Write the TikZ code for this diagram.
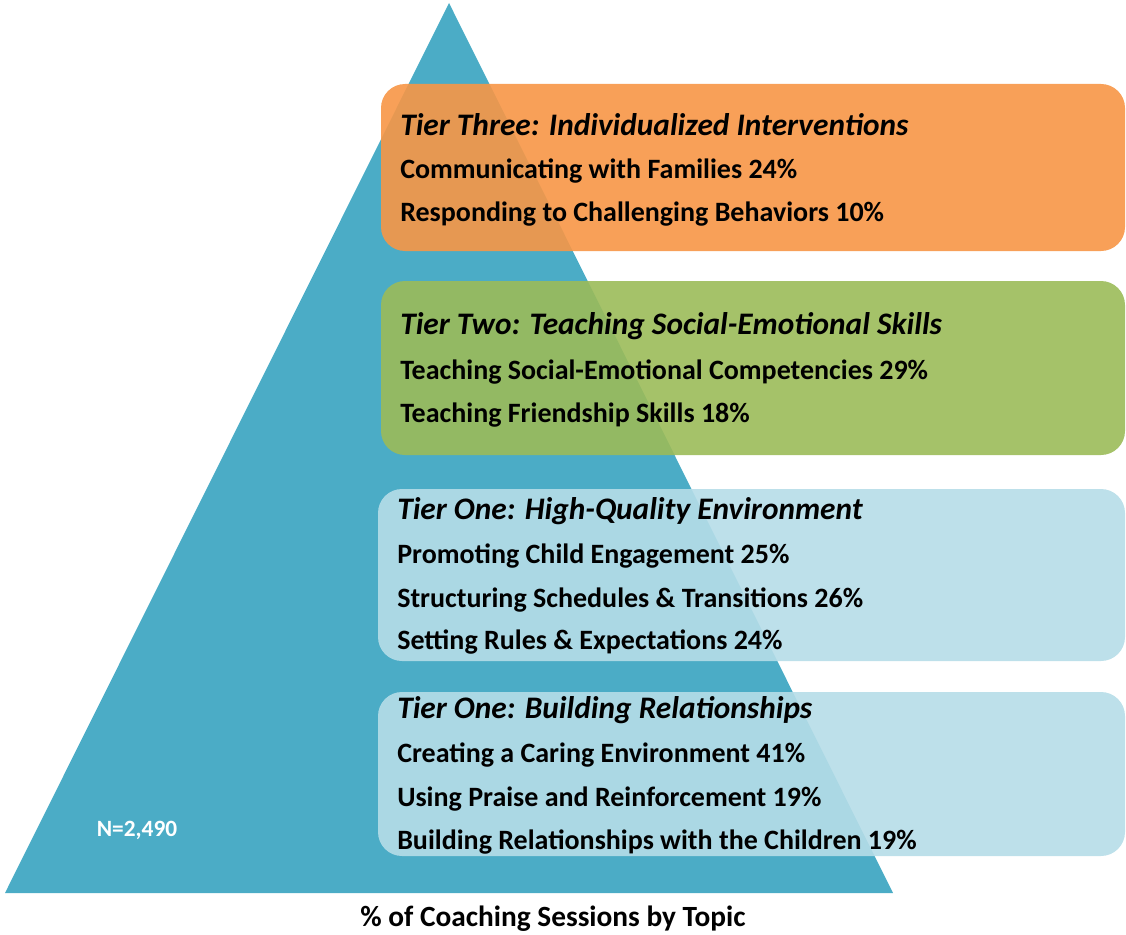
\documentclass[tikz,border=0pt]{standalone}
\usepackage{fontspec}
\setmainfont{Carlito}
\definecolor{tealtri}{HTML}{4BACC6}
\definecolor{tierorange}{HTML}{F79646}
\definecolor{tiergreen}{HTML}{9BBB59}
\definecolor{tierblue}{HTML}{B6DDE8}
\tikzset{
  tierbox/.style={rounded corners=18pt, fill opacity=0.9},
  tiertitle/.style={anchor=west, inner sep=0pt, font=\fontsize{23.5}{27}\selectfont\bfseries\itshape},
  tieritem/.style={anchor=west, inner sep=0pt, font=\fontsize{21}{25}\selectfont\bfseries},
}
\begin{document}
\begin{tikzpicture}[x=0.75pt,y=0.75pt,yscale=-1,xscale=1]
\useasboundingbox (0,0) rectangle (1126,934);

%Shape: Triangle [id:pyramid]
\fill [tealtri] (449,3) -- (893,893) -- (5,893) -- cycle ;

%Shape: Rounded Rect [id:tier3]
\fill [tierbox, tierorange] (381,84) rectangle (1125,251) ;
%Shape: Rounded Rect [id:tier2]
\fill [tierbox, tiergreen] (381,281) rectangle (1125,455) ;
%Shape: Rounded Rect [id:tier1a]
\fill [tierbox, tierblue] (378,489) rectangle (1125,661) ;
%Shape: Rounded Rect [id:tier1b]
\fill [tierbox, tierblue] (378,692) rectangle (1125,856) ;

% Text Node
\node [tiertitle] (threetitle) at (400,125) {Tier Three: Individualized Interventions};
% Text Node
\node [tieritem] (families) at (400,171) {Communicating with Families 24\%};
% Text Node
\node [tieritem] (behaviors) at (400,214) {Responding to Challenging Behaviors 10\%};

% Text Node
\node [tiertitle] (twotitle) at (400,326) {Tier Two: Teaching Social-Emotional Skills};
% Text Node
\node [tieritem] (competencies) at (400,372) {Teaching Social-Emotional Competencies 29\%};
% Text Node
\node [tieritem] (friendship) at (400,415) {Teaching Friendship Skills 18\%};

% Text Node
\node [tiertitle] (envtitle) at (397,511) {Tier One: High-Quality Environment};
% Text Node
\node [tieritem] (engagement) at (397,556) {Promoting Child Engagement 25\%};
% Text Node
\node [tieritem] (schedules) at (397,600) {Structuring Schedules \& Transitions 26\%};
% Text Node
\node [tieritem] (rules) at (397,642) {Setting Rules \& Expectations 24\%};

% Text Node
\node [tiertitle] (reltitle) at (397,710) {Tier One: Building Relationships};
% Text Node
\node [tieritem] (caring) at (397,755) {Creating a Caring Environment 41\%};
% Text Node
\node [tieritem] (praise) at (397,799) {Using Praise and Reinforcement 19\%};
% Text Node
\node [tieritem] (children) at (397,842) {Building Relationships with the Children 19\%};

% Text Node
\node [white, font=\fontsize{17.5}{21}\selectfont\bfseries] (sample) at (137,830) {N=2,490};
% Text Node
\node [font=\fontsize{22}{26}\selectfont\bfseries] (caption) at (553,919) {\% of Coaching Sessions by Topic};

\end{tikzpicture}
\end{document}
